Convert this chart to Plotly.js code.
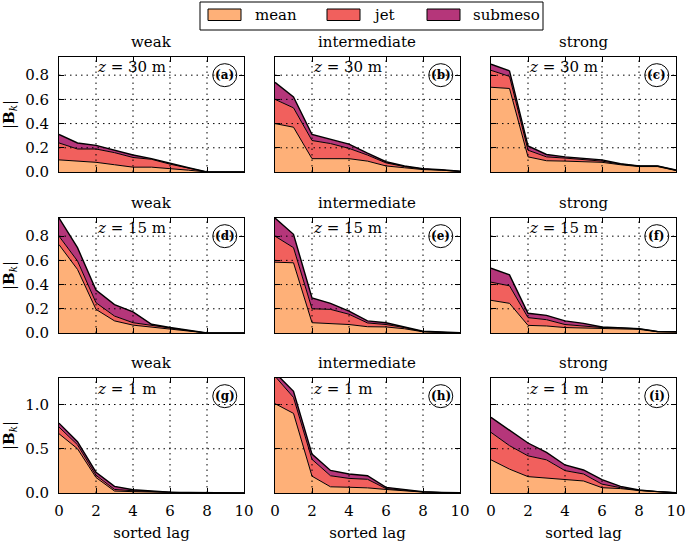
<!DOCTYPE html>
<html>
<head>
<meta charset="utf-8">
<script src="https://cdn.plot.ly/plotly-3.0.1.min.js"></script>
<style>html,body{margin:0;padding:0;background:#fff;}#chart{width:685px;height:542px;}</style>
</head>
<body>
<div id="chart"></div>
<script>
// ---- data (stack levels: mean, mean+jet, mean+jet+submeso) ----
const lags = [0,1,2,3,4,5,6,7,8,9,10];
const xTicks = [0,2,4,6,8,10];
const yTicksUpper = [0,0.2,0.4,0.6,0.8];
const yTicksLower = [0,0.5,1.0];
const stabilities = ["weak","intermediate","strong"];
const heights = ["<i>z</i> = 30 m","<i>z</i> = 15 m","<i>z</i> = 1 m"];
const panelLabels = ["(a)","(b)","(c)","(d)","(e)","(f)","(g)","(h)","(i)"];
const seriesNames = ["mean","jet","submeso"];

const a_mean  = [0.10,0.09,0.08,0.06,0.04,0.04,0.03,0.015,0.0,0.0,0.0];
const a_jet   = [0.24,0.19,0.19,0.16,0.12,0.105,0.065,0.03,0.0,0.0,0.0];
const a_total = [0.31,0.24,0.22,0.18,0.14,0.11,0.07,0.035,0.0,0.0,0.0];

const b_mean  = [0.40,0.37,0.11,0.11,0.11,0.09,0.05,0.035,0.02,0.015,0.005];
const b_jet   = [0.60,0.53,0.26,0.235,0.195,0.14,0.075,0.045,0.025,0.018,0.005];
const b_total = [0.74,0.62,0.31,0.27,0.23,0.155,0.085,0.05,0.028,0.02,0.006];

const c_mean  = [0.70,0.69,0.125,0.093,0.09,0.085,0.08,0.06,0.045,0.045,0.012];
const c_jet   = [0.84,0.79,0.18,0.125,0.115,0.105,0.09,0.065,0.05,0.05,0.015];
const c_total = [0.89,0.835,0.215,0.145,0.125,0.113,0.10,0.068,0.05,0.05,0.016];

const d_mean  = [0.73,0.525,0.195,0.10,0.065,0.05,0.035,0.015,0.0,0.0,0.0];
const d_jet   = [0.80,0.595,0.25,0.14,0.085,0.062,0.044,0.02,0.0,0.0,0.0];
const d_total = [0.95,0.705,0.355,0.235,0.175,0.072,0.045,0.02,0.0,0.0,0.0];

const e_mean  = [0.585,0.58,0.085,0.08,0.07,0.052,0.05,0.035,0.01,0.005,0.0];
const e_jet   = [0.80,0.705,0.20,0.195,0.155,0.083,0.07,0.045,0.012,0.006,0.0];
const e_total = [0.95,0.815,0.29,0.245,0.18,0.10,0.085,0.05,0.015,0.008,0.003];

const f_mean  = [0.27,0.245,0.063,0.058,0.045,0.04,0.035,0.035,0.03,0.01,0.008];
const f_jet   = [0.42,0.39,0.127,0.11,0.07,0.055,0.045,0.042,0.035,0.012,0.01];
const f_total = [0.535,0.48,0.163,0.146,0.10,0.08,0.05,0.045,0.036,0.012,0.01];

const g_mean  = [0.67,0.50,0.175,0.022,0.015,0.01,0.005,0.003,0.0,0.0,0.0];
const g_jet   = [0.745,0.545,0.20,0.04,0.025,0.015,0.008,0.004,0.0,0.0,0.0];
const g_total = [0.79,0.58,0.235,0.075,0.037,0.02,0.01,0.005,0.002,0.0,0.0];

const h_mean  = [1.01,0.90,0.19,0.07,0.065,0.058,0.04,0.025,0.01,0.005,0.002];
const h_jet   = [1.32,1.08,0.38,0.195,0.165,0.155,0.05,0.03,0.012,0.006,0.002];
const h_total = [1.36,1.15,0.44,0.255,0.215,0.195,0.064,0.036,0.015,0.007,0.003];

const i_mean  = [0.375,0.27,0.185,0.17,0.15,0.136,0.06,0.05,0.028,0.012,0.003];
const i_jet   = [0.685,0.535,0.42,0.375,0.253,0.215,0.10,0.06,0.03,0.013,0.003];
const i_total = [0.855,0.705,0.565,0.46,0.317,0.26,0.15,0.075,0.034,0.015,0.003];

const panels = [
  [a_mean,a_jet,a_total],[b_mean,b_jet,b_total],[c_mean,c_jet,c_total],
  [d_mean,d_jet,d_total],[e_mean,e_jet,e_total],[f_mean,f_jet,f_total],
  [g_mean,g_jet,g_total],[h_mean,h_jet,h_total],[i_mean,i_jet,i_total]
];

// ---- styling / layout ----
const W = 685, H = 542;
const colors = ["#feb078","#f1605d","#b5367a"];
const FONT = "DejaVu Serif";
const FS = 14;
const px2x = p => p / W;
const px2y = p => 1 - p / H;
const colPx = [[59,244],[275,460],[491,676]];
const rowPx = [[57,172],[218,333],[378,493]];
const yMax = [0.95, 0.95, 1.3];

const traces = [];
const layout = {
  width: W, height: H,
  margin: {l:0, r:0, t:0, b:0},
  paper_bgcolor: "#fff", plot_bgcolor: "#fff",
  showlegend: false,
  font: {family: FONT, size: FS, color: "#000"},
  annotations: [], shapes: []
};

for (let r = 0; r < 3; r++) {
  for (let c = 0; c < 3; c++) {
    const k = r*3 + c;
    const n = k + 1;
    const xa = "x" + (n === 1 ? "" : n);
    const ya = "y" + (n === 1 ? "" : n);
    const lv = panels[k];
    for (let s = 0; s < 3; s++) {
      traces.push({
        type: "scatter", mode: "lines", x: lags, y: lv[s],
        xaxis: xa, yaxis: ya, name: seriesNames[s],
        line: {color: "#000", width: s === 2 ? 1.4 : 1},
        fill: s === 0 ? "tozeroy" : "tonexty",
        fillcolor: colors[s], hoverinfo: "skip"
      });
    }
    const yt = r < 2 ? yTicksUpper : yTicksLower;
    const xax = {
      domain: [px2x(colPx[c][0]), px2x(colPx[c][1])],
      anchor: ya, range: [0, 10], tickvals: xTicks,
      ticks: "inside", ticklen: 5, tickcolor: "#000", mirror: "ticks",
      showline: true, linecolor: "#000", linewidth: 1,
      showgrid: false, zeroline: false, layer: "above traces",
      showticklabels: r === 2, ticklabelstandoff: 4, ticklabeloverflow: "allow",
      tickfont: {family: FONT, size: FS + 1}
    };
    if (r === 2) xax.title = {text: "sorted lag", font: {family: FONT, size: FS + 1}, standoff: 8};
    layout["xaxis" + (n === 1 ? "" : n)] = xax;
    const yax = {
      domain: [px2y(rowPx[r][1]), px2y(rowPx[r][0])],
      anchor: xa, range: [0, yMax[r]], tickvals: yt,
      tickformat: ".1f",
      ticks: "inside", ticklen: 5, tickcolor: "#000", mirror: "ticks",
      showline: true, linecolor: "#000", linewidth: 1,
      showgrid: false, zeroline: false, layer: "above traces",
      showticklabels: c === 0, ticklabelstandoff: 6, ticklabeloverflow: "allow",
      tickfont: {family: FONT, size: FS + 1}
    };
    if (c === 0) yax.title = {text: "|<b>B</b><sub><i>k</i></sub>|", font: {family: FONT, size: FS + 1}, standoff: 8};
    layout["yaxis" + (n === 1 ? "" : n)] = yax;
    // dotted grid drawn above the fills
    xTicks.filter(v => v > 0 && v < 10).forEach(v => layout.shapes.push({
      type: "line", xref: xa, yref: ya + " domain", x0: v, x1: v, y0: 0, y1: 1,
      line: {color: "#000", width: 1, dash: "1.5px,4px"}, layer: "above"
    }));
    yt.filter(v => v > 0).forEach(v => layout.shapes.push({
      type: "line", xref: xa + " domain", yref: ya, x0: 0, x1: 1, y0: v, y1: v,
      line: {color: "#000", width: 1, dash: "1.5px,4px"}, layer: "above"
    }));
    // column title
    layout.annotations.push({
      text: stabilities[c], xref: "paper", yref: "paper",
      x: (px2x(colPx[c][0]) + px2x(colPx[c][1])) / 2, y: px2y(rowPx[r][0]),
      xanchor: "center", yanchor: "bottom", yshift: 4, showarrow: false,
      font: {family: FONT, size: FS + 1}
    });
    // height label
    layout.annotations.push({
      text: heights[r], xref: xa + " domain", yref: ya + " domain",
      x: 0.195, y: r < 2 ? 0.915 : 0.905, xanchor: "left", yanchor: "middle",
      showarrow: false, font: {family: FONT, size: FS + 1}
    });
    // panel label in circle
    layout.annotations.push({
      text: "<b>" + panelLabels[k] + "</b>", xref: xa + " domain", yref: ya + " domain",
      x: 0.896, y: 0.842, xanchor: "center", yanchor: "middle",
      showarrow: false, font: {family: FONT, size: 12}
    });
    layout.shapes.push({
      type: "circle", xref: xa + " domain", yref: ya + " domain",
      xsizemode: "pixel", ysizemode: "pixel", xanchor: 0.896, yanchor: 0.842,
      x0: -12, x1: 12, y0: -11.5, y1: 11.5,
      line: {color: "#000", width: 1}, fillcolor: "rgba(0,0,0,0)", layer: "above"
    });
  }
}

// ---- legend (frame, patches, labels) ----
layout.shapes.push({
  type: "rect", xref: "paper", yref: "paper",
  x0: px2x(200), x1: px2x(543), y0: px2y(30), y1: px2y(2),
  line: {color: "#000", width: 1}, fillcolor: "#fff", layer: "above"
});
const legPatchX = [208, 327, 427];
const legTextX = [253, 371, 471];
for (let s = 0; s < 3; s++) {
  layout.shapes.push({
    type: "rect", xref: "paper", yref: "paper",
    x0: px2x(legPatchX[s]), x1: px2x(legPatchX[s] + 33), y0: px2y(20.5), y1: px2y(9),
    line: {color: "#000", width: 1}, fillcolor: colors[s], layer: "above"
  });
  layout.annotations.push({
    text: seriesNames[s], xref: "paper", yref: "paper",
    x: px2x(legTextX[s]), y: px2y(15), xanchor: "left", yanchor: "middle",
    showarrow: false, font: {family: FONT, size: FS + 1}
  });
}

Plotly.newPlot("chart", traces, layout, {staticPlot: true, displayModeBar: false});
</script>
</body>
</html>
